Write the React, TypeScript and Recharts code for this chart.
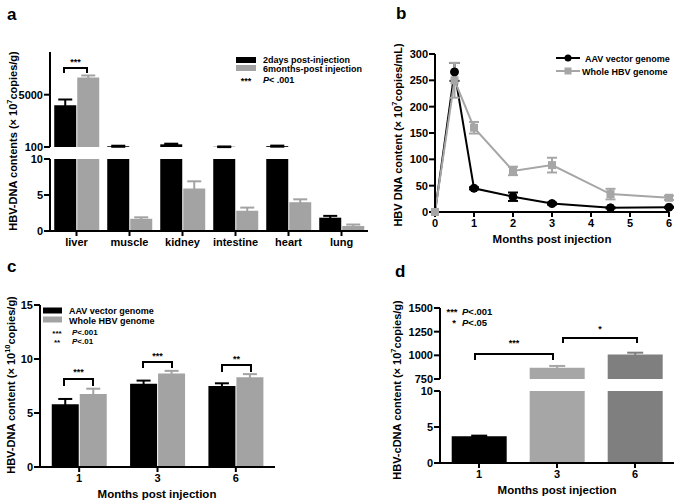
import React from 'react';
import { BarChart, Bar, LineChart, Line, XAxis, YAxis, ErrorBar, Cell } from 'recharts';

const FONT = "'Liberation Sans', Arial, Helvetica, sans-serif";
const GREY = '#a3a3a3';
const LINE_GREY = '#a6a6a6';

// a: HBV-DNA per organ, 2 days vs 6 months
const organs = ['liver', 'muscle', 'kidney', 'intestine', 'heart', 'lung'];
const twoDays = [4000, 170, 350, 120, 180, 1.85];
const twoDaysErr = [550, 50, 60, 30, 50, 0.25];
const sixMonths = [6600, 1.7, 5.9, 2.8, 4.0, 0.7];
const sixMonthsErr = [200, 0.2, 1.0, 0.45, 0.4, 0.2];

// b: serum time course
const monthsB = [0, 0.5, 1, 2, 3, 4.5, 6];
const aavB = [0, 266, 45, 29, 16, 8, 9];
const aavBErr = [0, 17, 2, 8, 2, 1, 1];
const wholeB = [0, 250, 160, 78, 89, 34, 27];
const wholeBErr = [0, 33, 11, 8, 14, 10, 4];

// c: liver HBV-DNA
const monthsC = ['1', '3', '6'];
const aavC = [5.8, 7.7, 7.5];
const aavCErr = [0.5, 0.3, 0.25];
const wholeC = [6.75, 8.65, 8.3];
const wholeCErr = [0.5, 0.25, 0.3];

// d: HBV-cDNA
const monthsD = ['1', '3', '6'];
const cdnaD = [3.7, 868, 1010];
const cdnaDErr = [0.1, 20, 18];
const colorsD = ['#000000', '#a6a6a6', '#7f7f7f'];

// broken axis helpers
const clamp = (v: number, lo: number, hi: number) => Math.min(Math.max(v, lo), hi);
const inSeg = (v: number, lo: number, hi: number) => v > lo && v <= hi;

const organRows = (lo: number, hi: number) =>
  organs.map((name, i) => ({
    name,
    d2: clamp(twoDays[i], lo, hi),
    d2e: inSeg(twoDays[i], lo, hi) ? twoDaysErr[i] : null,
    m6: clamp(sixMonths[i], lo, hi),
    m6e: inSeg(sixMonths[i], lo, hi) ? sixMonthsErr[i] : null,
  }));

const cdnaRows = (lo: number, hi: number) =>
  monthsD.map((m, i) => {
    const row: any = { m, v: clamp(cdnaD[i], lo, hi) };
    monthsD.forEach((_, j) => {
      row['e' + j] = j === i && inSeg(cdnaD[i], lo, hi) ? cdnaDErr[i] : null;
    });
    return row;
  });

const lineRows = monthsB.map((m, i) => ({
  m,
  aav: aavB[i],
  aavErr: aavBErr[i],
  whole: wholeB[i],
  wholeErr: wholeBErr[i],
}));

const barRowsC = monthsC.map((m, i) => ({
  m,
  aav: aavC[i],
  aavErr: aavCErr[i],
  whole: wholeC[i],
  wholeErr: wholeCErr[i],
}));

const axisLine = { stroke: '#000', strokeWidth: 2 };
const tick = { fill: '#000', fontSize: 11, fontWeight: 700, fontFamily: FONT };
const txt: any = { fontFamily: FONT, fontWeight: 700, fill: '#000' };

const Pos = ({ x, y, children }: any) => (
  <div style={{ position: 'absolute', left: x, top: y }}>{children}</div>
);

const SquareDot = (props: any) => {
  const { cx, cy } = props;
  if (cx == null || cy == null) return <g />;
  return <rect x={cx - 4} y={cy - 4} width={8} height={8} fill={LINE_GREY} />;
};

const YTitle = ({ x, y, pre, sup, post }: any) => (
  <text
    transform={`translate(${x},${y}) rotate(-90)`}
    textAnchor="middle"
    dominantBaseline="central"
    fontSize={11}
    {...txt}
  >
    {pre}
    <tspan dy={-4} fontSize={7.5}>{sup}</tspan>
    <tspan dy={4}>{post}</tspan>
  </text>
);

const Bracket = ({ x0, x1, top, leg, stars, sy }: any) => (
  <g>
    <path d={`M${x0} ${leg} L${x0} ${top} L${x1} ${top} L${x1} ${leg}`} stroke="#000" strokeWidth={2} fill="none" />
    <text x={(x0 + x1) / 2} y={sy} textAnchor="middle" fontSize={9} {...txt}>{stars}</text>
  </g>
);

const App: React.FC = () => {
  const upperA = organRows(100, 9000);
  const lowerA = organRows(0, 10);
  const upperD = cdnaRows(750, 1500);
  const lowerD = cdnaRows(0, 10);

  return (
    <div style={{ position: 'absolute', left: 0, top: 0, width: 680, height: 504, background: '#fff', overflow: 'hidden' }}>
      {/* a, upper segment */}
      <Pos x={0} y={40}>
        <BarChart width={372} height={115} data={upperA} margin={{ top: 12, right: 4, bottom: 8, left: 0 }} barCategoryGap="8%" barGap={1}>
          <XAxis dataKey="name" hide />
          <YAxis type="number" width={50} domain={[100, 9000]} ticks={[100, 5000]} interval={0} allowDataOverflow
            axisLine={axisLine} tickLine={axisLine} tickSize={6} tickMargin={1} tick={tick} />
          <Bar dataKey="d2" fill="#000" isAnimationActive={false}>
            <ErrorBar dataKey="d2e" width={7} stroke="#000" strokeWidth={2} direction="y" />
          </Bar>
          <Bar dataKey="m6" fill={GREY} isAnimationActive={false}>
            <ErrorBar dataKey="m6e" width={7} stroke={GREY} strokeWidth={2} direction="y" />
          </Bar>
        </BarChart>
      </Pos>
      {/* a, lower segment */}
      <Pos x={0} y={150}>
        <BarChart width={372} height={109} data={lowerA} margin={{ top: 9, right: 4, bottom: 0, left: 0 }} barCategoryGap="8%" barGap={1}>
          <XAxis dataKey="name" height={28} axisLine={axisLine} tickLine={axisLine} tickSize={5} tickMargin={2} tick={tick} interval={0} />
          <YAxis type="number" width={50} domain={[0, 10]} ticks={[0, 5, 10]} interval={0} allowDataOverflow
            axisLine={axisLine} tickLine={axisLine} tickSize={6} tickMargin={1} tick={tick} />
          <Bar dataKey="d2" fill="#000" isAnimationActive={false}>
            <ErrorBar dataKey="d2e" width={7} stroke="#000" strokeWidth={2} direction="y" />
          </Bar>
          <Bar dataKey="m6" fill={GREY} isAnimationActive={false}>
            <ErrorBar dataKey="m6e" width={7} stroke={GREY} strokeWidth={2} direction="y" />
          </Bar>
        </BarChart>
      </Pos>

      {/* b */}
      <Pos x={380} y={40}>
        <LineChart width={299} height={196} data={lineRows} margin={{ top: 14, right: 10, bottom: 0, left: 0 }}>
          <XAxis type="number" dataKey="m" domain={[0, 6]} ticks={[0, 1, 2, 3, 4, 5, 6]} interval={0} height={24}
            axisLine={axisLine} tickLine={axisLine} tickSize={5} tickMargin={2} tick={tick} />
          <YAxis type="number" width={55} domain={[0, 300]} ticks={[0, 50, 100, 150, 200, 250, 300]} interval={0}
            axisLine={axisLine} tickLine={axisLine} tickSize={6} tickMargin={1} tick={tick} />
          <Line type="linear" dataKey="aav" stroke="#000" strokeWidth={2} isAnimationActive={false}
            dot={{ r: 4, fill: '#000', stroke: '#000', strokeWidth: 1 }}>
            <ErrorBar dataKey="aavErr" width={5} stroke="#000" strokeWidth={2} direction="y" />
          </Line>
          <Line type="linear" dataKey="whole" stroke={LINE_GREY} strokeWidth={2} isAnimationActive={false} dot={SquareDot}>
            <ErrorBar dataKey="wholeErr" width={5} stroke={LINE_GREY} strokeWidth={2} direction="y" />
          </Line>
        </LineChart>
      </Pos>

      {/* c */}
      <Pos x={0} y={290}>
        <BarChart width={280} height={199} data={barRowsC} margin={{ top: 15, right: 5, bottom: 0, left: 0 }} barCategoryGap="15%" barGap={1}>
          <XAxis dataKey="m" height={22} axisLine={axisLine} tickLine={axisLine} tickSize={5} tickMargin={2} tick={tick} />
          <YAxis type="number" width={40} domain={[0, 15]} ticks={[0, 5, 10, 15]} interval={0}
            axisLine={axisLine} tickLine={axisLine} tickSize={6} tickMargin={1} tick={tick} />
          <Bar dataKey="aav" fill="#000" isAnimationActive={false}>
            <ErrorBar dataKey="aavErr" width={7} stroke="#000" strokeWidth={2} direction="y" />
          </Bar>
          <Bar dataKey="whole" fill={GREY} isAnimationActive={false}>
            <ErrorBar dataKey="wholeErr" width={7} stroke={GREY} strokeWidth={2} direction="y" />
          </Bar>
        </BarChart>
      </Pos>

      {/* d, upper segment */}
      <Pos x={385} y={298}>
        <BarChart width={293} height={89} data={upperD} margin={{ top: 10, right: 4, bottom: 8, left: 0 }} barCategoryGap="15%">
          <XAxis dataKey="m" hide />
          <YAxis type="number" width={55} domain={[750, 1500]} ticks={[750, 1000, 1250, 1500]} interval={0} allowDataOverflow
            axisLine={axisLine} tickLine={axisLine} tickSize={6} tickMargin={1} tick={tick} />
          <Bar dataKey="v" isAnimationActive={false}>
            {upperD.map((r: any, i: number) => <Cell key={r.m} fill={colorsD[i]} />)}
            {colorsD.map((c, j) => (
              <ErrorBar key={j} dataKey={'e' + j} width={8} stroke={c} strokeWidth={2} direction="y" />
            ))}
          </Bar>
        </BarChart>
      </Pos>
      {/* d, lower segment */}
      <Pos x={385} y={383}>
        <BarChart width={293} height={102} data={lowerD} margin={{ top: 8, right: 4, bottom: 0, left: 0 }} barCategoryGap="15%">
          <XAxis dataKey="m" height={22} axisLine={axisLine} tickLine={axisLine} tickSize={5} tickMargin={2} tick={tick} />
          <YAxis type="number" width={55} domain={[0, 10]} ticks={[0, 5, 10]} interval={0} allowDataOverflow
            axisLine={axisLine} tickLine={axisLine} tickSize={6} tickMargin={1} tick={tick} />
          <Bar dataKey="v" isAnimationActive={false}>
            {lowerD.map((r: any, i: number) => <Cell key={r.m} fill={colorsD[i]} />)}
            {colorsD.map((c, j) => (
              <ErrorBar key={j} dataKey={'e' + j} width={8} stroke={c} strokeWidth={2} direction="y" />
            ))}
          </Bar>
        </BarChart>
      </Pos>

      {/* titles, legends and significance marks */}
      <svg width={680} height={504} style={{ position: 'absolute', left: 0, top: 0, pointerEvents: 'none' }}>
        <text x={7} y={20} fontSize={17} {...txt}>a</text>
        <text x={396} y={19} fontSize={17} {...txt}>b</text>
        <text x={7} y={272} fontSize={17} {...txt}>c</text>
        <text x={395} y={277} fontSize={17} {...txt}>d</text>

        {/* a */}
        <YTitle x={13} y={141} pre="HBV-DNA contents (× 10" sup="7" post="copies/g)" />
        <Bracket x0={64} x1={87} top={68} leg={73} stars="***" sy={65} />
        <rect x={236} y={57} width={20} height={6} fill="#000" />
        <rect x={236} y={65} width={20} height={6} fill={GREY} />
        <text x={263} y={63} fontSize={9} {...txt}>2days post-injection</text>
        <text x={263} y={72} fontSize={9} {...txt}>6months-post injection</text>
        <text x={246} y={84} fontSize={9} textAnchor="middle" {...txt}>***</text>
        <text x={263} y={83} fontSize={9} {...txt}><tspan fontStyle="italic">P</tspan>{'< .001'}</text>

        {/* b */}
        <YTitle x={398} y={135} pre="HBV DNA content (× 10" sup="7" post="copies/mL)" />
        <text x={552} y={243} fontSize={11.5} textAnchor="middle" {...txt}>Months post injection</text>
        <line x1={556} y1={58} x2={580} y2={58} stroke="#000" strokeWidth={2} />
        <circle cx={568} cy={58} r={3.5} fill="#000" />
        <text x={585} y={61.5} fontSize={9} {...txt}>AAV vector genome</text>
        <line x1={556} y1={71} x2={580} y2={71} stroke={LINE_GREY} strokeWidth={2} />
        <rect x={564.5} y={67.5} width={7} height={7} fill={LINE_GREY} />
        <text x={582} y={74.5} fontSize={9} {...txt}>Whole HBV genome</text>

        {/* c */}
        <YTitle x={11} y={385} pre="HBV-DNA content (× 10" sup="10" post="copies/g)" />
        <text x={157} y={498} fontSize={11.5} textAnchor="middle" {...txt}>Months post injection</text>
        <rect x={43} y={307.5} width={19} height={6} fill="#000" />
        <rect x={43} y={316.5} width={19} height={6} fill={GREY} />
        <text x={69} y={314} fontSize={9} {...txt}>AAV vector genome</text>
        <text x={69} y={323.5} fontSize={9} {...txt}>Whole HBV genome</text>
        <text x={57} y={336} fontSize={8} textAnchor="middle" {...txt}>***</text>
        <text x={72} y={334.5} fontSize={8} {...txt}><tspan fontStyle="italic">P</tspan>{'<.001'}</text>
        <text x={57} y={345} fontSize={8} textAnchor="middle" {...txt}>**</text>
        <text x={72} y={344} fontSize={8} {...txt}><tspan fontStyle="italic">P</tspan>{'<.01'}</text>
        <Bracket x0={64} x1={93} top={379} leg={386} stars="***" sy={375} />
        <Bracket x0={143} x1={172} top={362} leg={368} stars="***" sy={359} />
        <Bracket x0={222} x1={251} top={365} leg={372} stars="**" sy={362} />

        {/* d */}
        <YTitle x={397} y={390} pre="HBV-cDNA content (× 10" sup="7" post="copies/g)" />
        <text x={557} y={494} fontSize={11.5} textAnchor="middle" {...txt}>Months post injection</text>
        <text x={452} y={315} fontSize={9.5} textAnchor="middle" {...txt}>***</text>
        <text x={462} y={314.5} fontSize={9.5} {...txt}><tspan fontStyle="italic">P</tspan>{'<.001'}</text>
        <text x={454} y={326} fontSize={9.5} textAnchor="middle" {...txt}>*</text>
        <text x={462} y={325.5} fontSize={9.5} {...txt}><tspan fontStyle="italic">P</tspan>{'<.05'}</text>
        <Bracket x0={475} x1={553} top={354} leg={360} stars="***" sy={345.5} />
        <Bracket x0={563} x1={637} top={338} leg={343} stars="*" sy={331.5} />
      </svg>
    </div>
  );
};

export default App;
